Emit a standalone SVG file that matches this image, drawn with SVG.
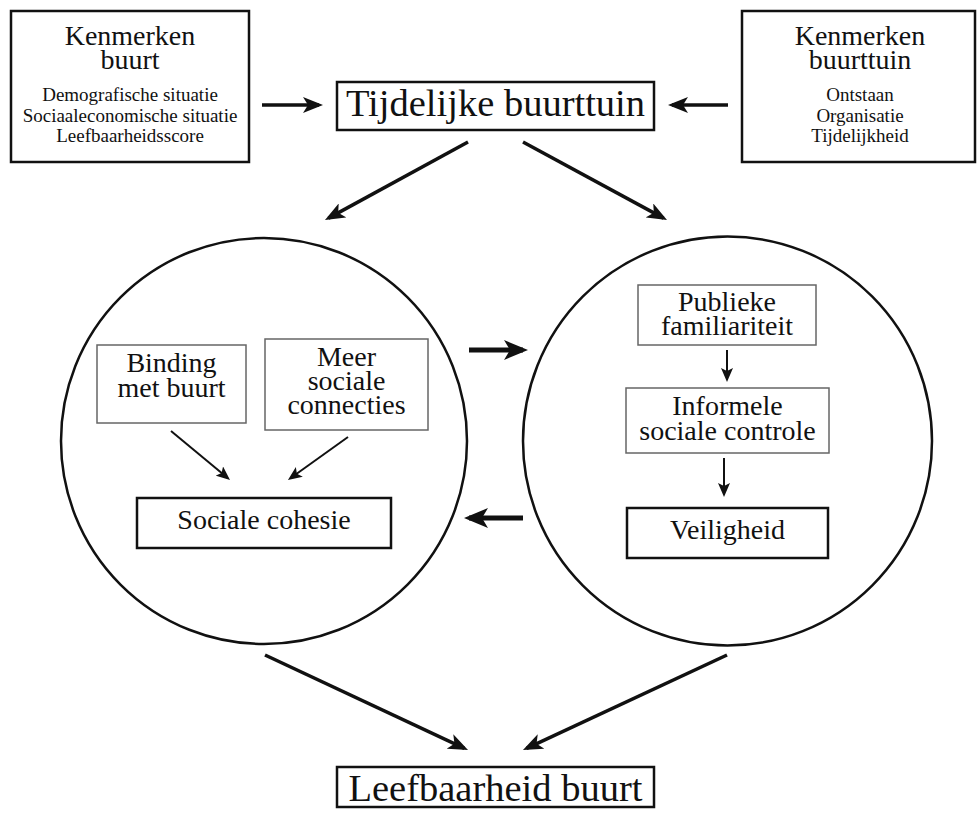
<svg xmlns="http://www.w3.org/2000/svg" width="977" height="817" viewBox="0 0 977 817">
<style>
text{font-family:"Liberation Serif","Times New Roman",serif;fill:#111;text-anchor:middle}
.big{font-size:38.5px}
.hd{font-size:28px}
.sm{font-size:19px}
.in{font-size:28px}
.box{fill:#fff;stroke:#111;stroke-width:2.5}
.thin{fill:#fff;stroke:#666;stroke-width:1.5}
.circ{fill:none;stroke:#111;stroke-width:2.5}
.a{stroke:#111;stroke-width:3.5;fill:none;marker-end:url(#m)}
.ab{stroke:#111;stroke-width:5;fill:none;marker-end:url(#b)}
.as{stroke:#111;stroke-width:2;fill:none;marker-end:url(#s)}
</style>
<defs>
<marker id="m" markerUnits="userSpaceOnUse" markerWidth="20" markerHeight="16" refX="16" refY="8" orient="auto"><path d="M0,0 L20,8 L0,16 L5,8 z" fill="#111"/></marker>
<marker id="b" markerUnits="userSpaceOnUse" markerWidth="24" markerHeight="20" refX="19" refY="10" orient="auto"><path d="M0,0 L24,10 L0,20 L6,10 z" fill="#111"/></marker>
<marker id="s" markerUnits="userSpaceOnUse" markerWidth="14" markerHeight="12" refX="11" refY="6" orient="auto"><path d="M0,0 L14,6 L0,12 L3,6 z" fill="#111"/></marker>
</defs>
<rect width="977" height="817" fill="#fff"/>

<g id="circle-left"><circle class="circ" cx="264" cy="441" r="203"/></g>
<g id="circle-right"><circle class="circ" cx="727.5" cy="441" r="204.5"/></g>

<g id="kenmerken-buurt">
<rect class="box" x="11" y="11" width="238" height="151"/>
<text class="hd" x="130" y="45">Kenmerken</text>
<text class="hd" x="130" y="69">buurt</text>
<text class="sm" x="130" y="101">Demografische situatie</text>
<text class="sm" x="130" y="121.5">Sociaaleconomische situatie</text>
<text class="sm" x="130" y="142">Leefbaarheidsscore</text>
</g>

<g id="kenmerken-buurttuin">
<rect class="box" x="742" y="11" width="233" height="151"/>
<text class="hd" x="860" y="45">Kenmerken</text>
<text class="hd" x="860" y="69">buurttuin</text>
<text class="sm" x="860" y="101">Ontstaan</text>
<text class="sm" x="860" y="121.5">Organisatie</text>
<text class="sm" x="860" y="142">Tijdelijkheid</text>
</g>

<g id="tijdelijke-buurttuin">
<rect class="box" x="337" y="82" width="317" height="48"/>
<text class="big" x="495.5" y="116">Tijdelijke buurttuin</text>
</g>

<g id="binding">
<rect class="thin" x="97" y="345" width="149" height="78"/>
<text class="in" x="171.5" y="372">Binding</text>
<text class="in" x="171.5" y="397">met buurt</text>
</g>

<g id="meer-sociale-connecties">
<rect class="thin" x="265" y="339" width="163" height="91"/>
<text class="in" x="346.5" y="366">Meer</text>
<text class="in" x="346.5" y="390">sociale</text>
<text class="in" x="346.5" y="414">connecties</text>
</g>

<g id="sociale-cohesie">
<rect class="box" x="137" y="498" width="254" height="50"/>
<text class="in" x="264" y="529">Sociale cohesie</text>
</g>

<g id="publieke-familiariteit">
<rect class="thin" x="638" y="285" width="178" height="60"/>
<text class="in" x="727" y="311">Publieke</text>
<text class="in" x="727" y="335">familiariteit</text>
</g>

<g id="informele-sociale-controle">
<rect class="thin" x="626" y="388" width="203" height="65"/>
<text class="in" x="727.5" y="415">Informele</text>
<text class="in" x="727.5" y="440">sociale controle</text>
</g>

<g id="veiligheid">
<rect class="box" x="627" y="508" width="201" height="50"/>
<text class="in" x="727.5" y="539">Veiligheid</text>
</g>

<g id="leefbaarheid-buurt">
<rect class="box" x="337" y="767" width="317" height="40"/>
<text class="big" x="495.5" y="801">Leefbaarheid buurt</text>
</g>

<g id="connectors">
<line class="a" x1="262" y1="105" x2="319" y2="105"/>
<line class="a" x1="728" y1="105" x2="672" y2="105"/>
<line class="a" x1="468" y1="142" x2="328.5" y2="218.1"/>
<line class="a" x1="523" y1="142" x2="663.5" y2="218.1"/>
<line class="a" x1="265" y1="655" x2="464.4" y2="748.3"/>
<line class="a" x1="727" y1="655" x2="526.6" y2="748.3"/>
<line class="ab" x1="469" y1="350" x2="523" y2="350"/>
<line class="ab" x1="523" y1="518" x2="469" y2="518"/>
<line class="as" x1="171" y1="431" x2="227.7" y2="478.1"/>
<line class="as" x1="348" y1="437" x2="290.4" y2="478.3"/>
<line class="as" x1="727" y1="350" x2="727" y2="379"/>
<line class="as" x1="724" y1="458" x2="724" y2="494"/>
</g>
</svg>
